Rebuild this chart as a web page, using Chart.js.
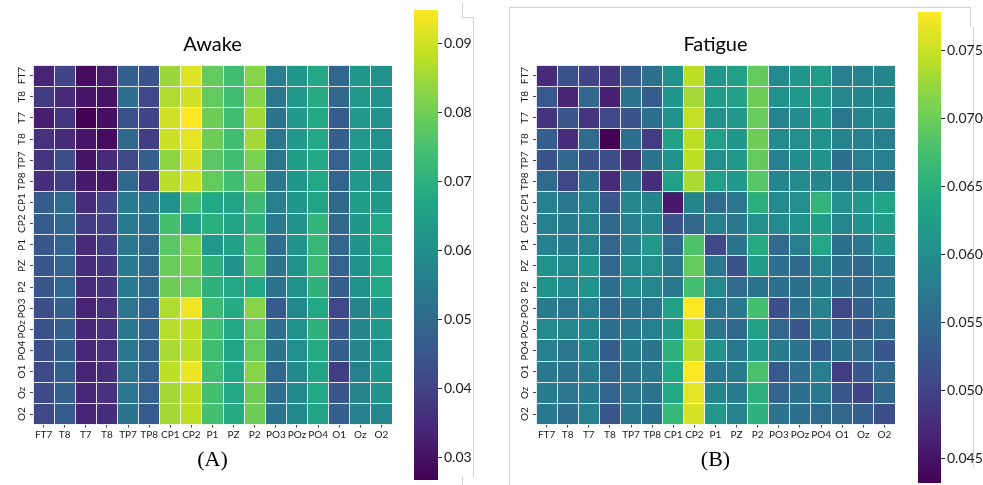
<!DOCTYPE html>
<html lang="en">
<head>
<meta charset="UTF-8">
<title>Awake vs Fatigue connectivity</title>
<script src="https://cdn.jsdelivr.net/npm/chart.js"></script>
<style>
  body { margin: 0; background: #fff; }
  #page { position: relative; width: 983px; height: 485px; overflow: hidden; background: #fff; }
  canvas { position: absolute; top: 0; }
  .line { position: absolute; background: #d2d2d2; }
</style>
</head>
<body>
<div id="page">
  <!-- faint page frame lines -->
  <div class="line" style="left:462px;top:3px;width:1px;height:14px"></div>
  <div class="line" style="left:462px;top:17px;width:11px;height:1px"></div>
  <div class="line" style="left:473px;top:17px;width:1px;height:460px"></div>
  <div class="line" style="left:462px;top:477px;width:1px;height:8px"></div>
  <div class="line" style="left:509px;top:7px;width:1px;height:478px"></div>
  <div class="line" style="left:509px;top:7px;width:461px;height:1px"></div>
  <div class="line" style="left:970px;top:7px;width:1px;height:20px"></div>
  <div class="line" style="left:973px;top:27px;width:1px;height:440px"></div>

  <canvas id="awake" width="400" height="485" style="left:0"></canvas>
  <canvas id="awakeBar" width="75" height="485" style="left:405px"></canvas>
  <canvas id="fatigue" width="400" height="485" style="left:503px"></canvas>
  <canvas id="fatigueBar" width="74" height="485" style="left:909px"></canvas>
</div>

<script>
// channel names (rows and columns use the same order)
const channels = ['FT7', 'T8', 'T7', 'T8', 'TP7', 'TP8', 'CP1', 'CP2', 'P1', 'PZ', 'P2', 'PO3', 'POz', 'PO4', 'O1', 'Oz', 'O2'];

// Awake matrix, one row per channel
const awake = [
    [0.0335, 0.0403, 0.0287, 0.0321, 0.0471, 0.0444, 0.0846, 0.0914, 0.0785, 0.0737, 0.0825, 0.0553, 0.0621, 0.0676, 0.0492, 0.0621, 0.0608],
    [0.0383, 0.0349, 0.0308, 0.0301, 0.0512, 0.0410, 0.0866, 0.0900, 0.0785, 0.0737, 0.0825, 0.0539, 0.0628, 0.0682, 0.0492, 0.0628, 0.0608],
    [0.0321, 0.0376, 0.0267, 0.0294, 0.0437, 0.0403, 0.0900, 0.0948, 0.0798, 0.0737, 0.0853, 0.0526, 0.0628, 0.0676, 0.0464, 0.0628, 0.0608],
    [0.0362, 0.0349, 0.0308, 0.0287, 0.0499, 0.0390, 0.0894, 0.0921, 0.0798, 0.0737, 0.0853, 0.0533, 0.0628, 0.0676, 0.0471, 0.0628, 0.0608],
    [0.0369, 0.0430, 0.0301, 0.0349, 0.0417, 0.0471, 0.0832, 0.0907, 0.0771, 0.0737, 0.0812, 0.0539, 0.0642, 0.0676, 0.0478, 0.0628, 0.0608],
    [0.0356, 0.0390, 0.0315, 0.0315, 0.0499, 0.0369, 0.0873, 0.0900, 0.0785, 0.0737, 0.0805, 0.0539, 0.0621, 0.0676, 0.0485, 0.0628, 0.0608],
    [0.0464, 0.0505, 0.0356, 0.0403, 0.0546, 0.0526, 0.0608, 0.0744, 0.0676, 0.0662, 0.0730, 0.0553, 0.0621, 0.0662, 0.0499, 0.0642, 0.0635],
    [0.0464, 0.0492, 0.0390, 0.0396, 0.0546, 0.0519, 0.0744, 0.0648, 0.0696, 0.0662, 0.0703, 0.0546, 0.0614, 0.0710, 0.0499, 0.0621, 0.0676],
    [0.0451, 0.0485, 0.0349, 0.0390, 0.0539, 0.0505, 0.0771, 0.0812, 0.0628, 0.0655, 0.0744, 0.0512, 0.0614, 0.0717, 0.0492, 0.0614, 0.0669],
    [0.0451, 0.0478, 0.0356, 0.0376, 0.0546, 0.0505, 0.0791, 0.0805, 0.0703, 0.0614, 0.0751, 0.0526, 0.0608, 0.0730, 0.0478, 0.0614, 0.0676],
    [0.0451, 0.0492, 0.0356, 0.0376, 0.0546, 0.0505, 0.0798, 0.0785, 0.0703, 0.0669, 0.0676, 0.0526, 0.0614, 0.0703, 0.0471, 0.0608, 0.0676],
    [0.0430, 0.0471, 0.0335, 0.0362, 0.0533, 0.0485, 0.0866, 0.0934, 0.0730, 0.0682, 0.0825, 0.0458, 0.0587, 0.0676, 0.0410, 0.0573, 0.0621],
    [0.0437, 0.0471, 0.0342, 0.0362, 0.0539, 0.0485, 0.0873, 0.0880, 0.0744, 0.0676, 0.0785, 0.0512, 0.0608, 0.0703, 0.0451, 0.0573, 0.0628],
    [0.0430, 0.0471, 0.0342, 0.0362, 0.0539, 0.0485, 0.0859, 0.0873, 0.0737, 0.0662, 0.0785, 0.0526, 0.0601, 0.0682, 0.0471, 0.0573, 0.0608],
    [0.0424, 0.0471, 0.0335, 0.0356, 0.0533, 0.0485, 0.0880, 0.0928, 0.0737, 0.0676, 0.0825, 0.0492, 0.0587, 0.0662, 0.0390, 0.0560, 0.0621],
    [0.0424, 0.0471, 0.0342, 0.0362, 0.0533, 0.0478, 0.0853, 0.0880, 0.0744, 0.0676, 0.0798, 0.0512, 0.0587, 0.0676, 0.0451, 0.0567, 0.0614],
    [0.0417, 0.0458, 0.0335, 0.0356, 0.0526, 0.0458, 0.0853, 0.0880, 0.0744, 0.0682, 0.0798, 0.0526, 0.0587, 0.0662, 0.0471, 0.0560, 0.0580]
];

// Fatigue matrix
const fatigue = [
    [0.0474, 0.0522, 0.0501, 0.0484, 0.0529, 0.0560, 0.0605, 0.0743, 0.0612, 0.0626, 0.0695, 0.0595, 0.0612, 0.0622, 0.0577, 0.0584, 0.0588],
    [0.0529, 0.0467, 0.0550, 0.0463, 0.0563, 0.0532, 0.0612, 0.0730, 0.0622, 0.0626, 0.0702, 0.0605, 0.0615, 0.0615, 0.0591, 0.0588, 0.0588],
    [0.0484, 0.0525, 0.0487, 0.0505, 0.0522, 0.0557, 0.0605, 0.0747, 0.0605, 0.0615, 0.0698, 0.0584, 0.0595, 0.0612, 0.0570, 0.0588, 0.0591],
    [0.0536, 0.0477, 0.0553, 0.0432, 0.0560, 0.0494, 0.0629, 0.0743, 0.0626, 0.0612, 0.0702, 0.0595, 0.0602, 0.0605, 0.0584, 0.0581, 0.0577],
    [0.0522, 0.0546, 0.0522, 0.0515, 0.0484, 0.0563, 0.0605, 0.0743, 0.0602, 0.0615, 0.0695, 0.0581, 0.0598, 0.0608, 0.0557, 0.0577, 0.0581],
    [0.0553, 0.0505, 0.0563, 0.0474, 0.0563, 0.0477, 0.0626, 0.0733, 0.0626, 0.0615, 0.0685, 0.0588, 0.0595, 0.0588, 0.0574, 0.0574, 0.0567],
    [0.0581, 0.0570, 0.0584, 0.0525, 0.0591, 0.0588, 0.0456, 0.0588, 0.0553, 0.0567, 0.0650, 0.0595, 0.0602, 0.0657, 0.0602, 0.0615, 0.0633],
    [0.0581, 0.0574, 0.0584, 0.0550, 0.0581, 0.0591, 0.0522, 0.0546, 0.0581, 0.0570, 0.0602, 0.0595, 0.0605, 0.0622, 0.0591, 0.0608, 0.0622],
    [0.0581, 0.0574, 0.0584, 0.0546, 0.0581, 0.0615, 0.0553, 0.0681, 0.0508, 0.0563, 0.0643, 0.0553, 0.0577, 0.0636, 0.0560, 0.0570, 0.0608],
    [0.0605, 0.0595, 0.0608, 0.0550, 0.0595, 0.0602, 0.0570, 0.0695, 0.0570, 0.0522, 0.0622, 0.0560, 0.0550, 0.0584, 0.0557, 0.0550, 0.0570],
    [0.0608, 0.0595, 0.0608, 0.0560, 0.0595, 0.0591, 0.0570, 0.0674, 0.0595, 0.0553, 0.0563, 0.0560, 0.0560, 0.0574, 0.0557, 0.0550, 0.0570],
    [0.0574, 0.0567, 0.0577, 0.0550, 0.0563, 0.0567, 0.0626, 0.0778, 0.0567, 0.0570, 0.0674, 0.0515, 0.0560, 0.0581, 0.0508, 0.0536, 0.0563],
    [0.0595, 0.0591, 0.0588, 0.0560, 0.0570, 0.0581, 0.0615, 0.0743, 0.0567, 0.0550, 0.0629, 0.0546, 0.0525, 0.0570, 0.0536, 0.0525, 0.0553],
    [0.0581, 0.0567, 0.0588, 0.0532, 0.0574, 0.0563, 0.0653, 0.0740, 0.0608, 0.0570, 0.0615, 0.0574, 0.0563, 0.0536, 0.0560, 0.0553, 0.0525],
    [0.0570, 0.0563, 0.0574, 0.0546, 0.0563, 0.0570, 0.0640, 0.0778, 0.0570, 0.0574, 0.0678, 0.0529, 0.0557, 0.0577, 0.0494, 0.0525, 0.0553],
    [0.0574, 0.0567, 0.0574, 0.0543, 0.0567, 0.0563, 0.0640, 0.0764, 0.0588, 0.0574, 0.0653, 0.0543, 0.0560, 0.0570, 0.0525, 0.0501, 0.0550],
    [0.0570, 0.0557, 0.0581, 0.0525, 0.0570, 0.0560, 0.0660, 0.0757, 0.0615, 0.0584, 0.0653, 0.0563, 0.0557, 0.0553, 0.0546, 0.0536, 0.0515]
];

// colorbar tick labels
const awakeTicks = [0.03, 0.04, 0.05, 0.06, 0.07, 0.08, 0.09];
const fatigueTicks = [0.045, 0.050, 0.055, 0.060, 0.065, 0.070, 0.075];

const VIRIDIS = ['#440154', '#482475', '#414487', '#355f8d', '#2a788e', '#21918c',
                 '#22a884', '#44bf70', '#7ad151', '#bddf26', '#fde725'];

function hexToRgb(h) {
    return [parseInt(h.slice(1, 3), 16), parseInt(h.slice(3, 5), 16), parseInt(h.slice(5, 7), 16)];
}

function viridis(t) {
    t = Math.max(0, Math.min(1, t));
    const pos = t * (VIRIDIS.length - 1);
    const i = Math.min(Math.floor(pos), VIRIDIS.length - 2);
    const f = pos - i;
    const a = hexToRgb(VIRIDIS[i]), b = hexToRgb(VIRIDIS[i + 1]);
    const c = a.map((v, k) => Math.round(v + (b[k] - v) * f));
    return `rgb(${c[0]},${c[1]},${c[2]})`;
}

Chart.defaults.font.family = 'Lato, "Open Sans", sans-serif';
Chart.defaults.color = '#1a1a1a';

function heatmap(id, title, caption, rows) {
    const all = rows.flat();
    const lo = Math.min(...all);
    const hi = Math.max(...all);

    const datasets = rows.map((row, r) => ({
        data: row.map(() => [r, r + 1]),
        backgroundColor: row.map(v => viridis((v - lo) / (hi - lo))),
        borderWidth: 0,
        grouped: false,
        barPercentage: 1,
        categoryPercentage: 1
    }));

    new Chart(document.getElementById(id), {
        type: 'bar',
        data: { labels: channels, datasets: datasets },
        options: {
            responsive: false,
            animation: false,
            devicePixelRatio: 1,
            layout: { padding: { left: 0, right: 8, top: 0, bottom: 0 } },
            plugins: {
                legend: { display: false },
                tooltip: { enabled: false },
                title: {
                    display: true, text: title, fullSize: false, color: '#000',
                    font: { size: 20, weight: 'normal' },
                    padding: { top: 33, bottom: 8 }
                },
                subtitle: {
                    display: true, text: caption, position: 'bottom', fullSize: false, color: '#000',
                    font: { family: '"Liberation Serif", "Times New Roman", serif', size: 22 },
                    padding: { top: 0, bottom: 12 }
                }
            },
            scales: {
                x: {
                    type: 'category',
                    offset: true,
                    border: { display: false },
                    grid: { offset: false, drawOnChartArea: false, tickLength: 3, tickColor: '#444' },
                    ticks: { autoSkip: false, maxRotation: 0, padding: 1, font: { size: 10 } },
                    afterFit: s => { s.height = 22; s.paddingLeft = s.paddingRight = 0; }
                },
                xGrid: {
                    type: 'category',
                    position: 'bottom',
                    offset: true,
                    border: { display: false },
                    grid: { offset: true, color: 'rgba(255,255,255,0.85)', lineWidth: 1, drawTicks: false, z: 1 },
                    ticks: { display: false },
                    afterFit: s => { s.height = 0; s.paddingLeft = s.paddingRight = 0; }
                },
                y: {
                    type: 'linear',
                    position: 'left',
                    min: 0, max: channels.length,
                    reverse: true,
                    border: { display: false },
                    grid: { drawOnChartArea: false, tickLength: 3, tickColor: '#444' },
                    afterBuildTicks: s => { s.ticks = channels.map((c, i) => ({ value: i + 0.5 })); },
                    ticks: {
                        autoSkip: false, minRotation: 90, maxRotation: 90, crossAlign: 'center',
                        padding: -2, font: { size: 10 },
                        callback: (v, i) => channels[i]
                    },
                    afterFit: s => { s.width = 33; s.paddingTop = s.paddingBottom = 0; }
                },
                yGrid: {
                    type: 'linear',
                    position: 'left',
                    min: 0, max: channels.length,
                    reverse: true,
                    border: { display: false },
                    grid: { color: 'rgba(255,255,255,0.85)', lineWidth: 1, drawTicks: false, z: 1 },
                    afterBuildTicks: s => { s.ticks = channels.concat(['']).map((c, i) => ({ value: i })); },
                    ticks: { display: false },
                    afterFit: s => { s.width = 0; s.paddingTop = s.paddingBottom = 0; }
                }
            }
        }
    });
    return [lo, hi];
}

function colorbar(id, range, ticks, decimals, pad) {
    const [lo, hi] = range;
    new Chart(document.getElementById(id), {
        type: 'bar',
        data: {
            labels: [''],
            datasets: [{
                data: [[lo, hi]],
                borderWidth: 0,
                barPercentage: 1,
                categoryPercentage: 1,
                backgroundColor: ctx => {
                    const area = ctx.chart.chartArea;
                    if (!area) return VIRIDIS[5];
                    const g = ctx.chart.ctx.createLinearGradient(0, area.bottom, 0, area.top);
                    VIRIDIS.forEach((c, i) => g.addColorStop(i / (VIRIDIS.length - 1), c));
                    return g;
                }
            }]
        },
        options: {
            responsive: false,
            animation: false,
            devicePixelRatio: 1,
            layout: { padding: pad },
            plugins: { legend: { display: false }, tooltip: { enabled: false } },
            scales: {
                x: { display: false },
                y: {
                    position: 'right',
                    min: lo, max: hi,
                    border: { display: false },
                    grid: { drawOnChartArea: false, tickLength: 4, tickColor: '#333' },
                    afterBuildTicks: s => { s.ticks = ticks.map(v => ({ value: v })); },
                    ticks: {
                        padding: 2, font: { size: 14 }, color: '#1a1a1a',
                        callback: v => Number(v).toFixed(decimals)
                    },
                    afterFit: s => { s.width = 42; s.paddingTop = s.paddingBottom = 0; }
                }
            }
        }
    });
}

const awakeRange = heatmap('awake', 'Awake', '(A)', awake);
const fatigueRange = heatmap('fatigue', 'Fatigue', '(B)', fatigue);
colorbar('awakeBar', awakeRange, awakeTicks, 2, { left: 9, right: 0, top: 10, bottom: 5 });
colorbar('fatigueBar', fatigueRange, fatigueTicks, 3, { left: 9, right: 0, top: 12, bottom: 2 });
</script>
</body>
</html>
